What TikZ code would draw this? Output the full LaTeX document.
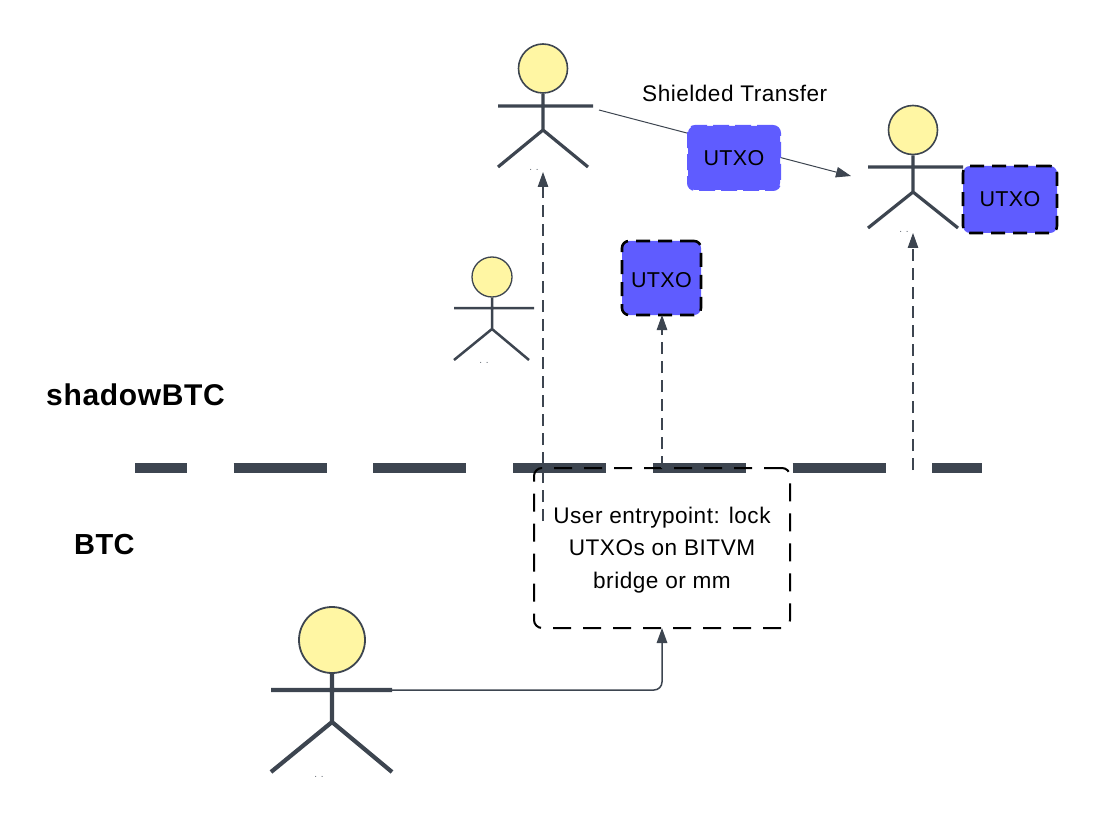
\documentclass[tikz,border=0pt]{standalone}
\usepackage{fontspec}
\setmainfont{Liberation Sans}
\newfontfamily\labelfont[LetterSpace=2.2]{Liberation Sans}
\newfontfamily\coinfont[LetterSpace=1.5]{Liberation Sans}
\newfontfamily\boldlabelfont[LetterSpace=1.5]{Liberation Sans}
\newfontfamily\boldwidefont[LetterSpace=2.2]{Liberation Sans}
\usetikzlibrary{arrows.meta}
\definecolor{ink}{HTML}{3D4550}
\definecolor{headfill}{HTML}{FFF6A3}
\definecolor{coin}{HTML}{5F5CFF}
\tikzset{
  txt/.style={font=\labelfont\fontsize{22.6}{22.6}\selectfont,text=black,inner sep=0pt},
  heading/.style={font=\boldlabelfont\bfseries\fontsize{29}{29}\selectfont,text=black,inner sep=0pt},
  headingwide/.style={heading,font=\boldwidefont\bfseries\fontsize{30}{30}\selectfont},
  coinbox/.style={draw=black,fill=coin,rounded corners=7pt,line width=2.6pt,dash pattern=on 14pt off 8pt,
    font=\coinfont\fontsize{21.5}{21.5}\selectfont,text=black,inner sep=0pt,outer sep=0pt,anchor=north west},
  softbox/.style={coinbox,draw=coin},
  notebox/.style={draw=black,rounded corners=8pt,line width=2pt,dash pattern=on 18pt off 12pt,
    font=\labelfont\fontsize{22.6}{32.5}\selectfont,text=black,inner sep=0pt,outer sep=0pt,align=center,anchor=north west},
  flow/.style={draw=ink,line width=1.5pt,-{Triangle[length=15pt,width=10.5pt]}},
  dashflow/.style={flow,line width=1.1pt,dash pattern=on 12pt off 7pt},
  limb/.style={draw=ink,line cap=butt},
  tinylabel/.style={font=\fontsize{10}{10}\selectfont,text=ink!80,inner sep=0pt},
  barline/.style={draw=ink,line width=10pt,dash pattern=on 93pt off 46.7pt,dash phase=41pt}
}
\begin{document}
\begin{tikzpicture}[x=1pt,y=-1pt]
\useasboundingbox (0,0) rectangle (1097,818);

% separator
\coordinate (barL) at (135,468);
\coordinate (barR) at (982,468);
\draw[barline] (barL) -- (barR);

% headings
\node[headingwide,anchor=base west] (shadow) at (46,405) {shadowBTC};
\node[heading,anchor=base west] (btc) at (74,554) {BTC};

% top actor
\node[circle,draw=ink,fill=headfill,line width=1.6pt,inner sep=0pt,minimum size=49pt] (headA) at (543,68.5) {};
\coordinate (hipA) at (543,130);
\coordinate (armAl) at (498,106); \coordinate (armAr) at (593,106);
\coordinate (legAl) at (498,167); \coordinate (legAr) at (588,167);
\draw[limb,line width=3.2pt] (headA) -- (hipA) (armAl) -- (armAr) (legAl) -- (hipA) -- (legAr);
\node[tinylabel] (dotsA) at (534,170) {. .};

% right actor
\node[circle,draw=ink,fill=headfill,line width=1.6pt,inner sep=0pt,minimum size=49pt] (headC) at (913,130) {};
\coordinate (hipC) at (913,192);
\coordinate (armCl) at (868,167); \coordinate (armCr) at (963,167);
\coordinate (legCl) at (868,228); \coordinate (legCr) at (958,228);
\draw[limb,line width=3.2pt] (headC) -- (hipC) (armCl) -- (armCr) (legCl) -- (hipC) -- (legCr);
\node[tinylabel] (dotsC) at (904,232) {. .};

% small actor
\node[circle,draw=ink,fill=headfill,line width=1.3pt,inner sep=0pt,minimum size=40pt] (headB) at (492,277) {};
\coordinate (hipB) at (492,329);
\coordinate (armBl) at (454,308); \coordinate (armBr) at (534,308);
\coordinate (legBl) at (454,360); \coordinate (legBr) at (529,360);
\draw[limb,line width=2.5pt] (headB) -- (hipB) (armBl) -- (armBr) (legBl) -- (hipB) -- (legBr);
\node[tinylabel] (dotsB) at (484,363) {. .};

% bottom actor
\node[circle,draw=ink,fill=headfill,line width=1.8pt,inner sep=0pt,minimum size=66pt] (headD) at (332,640) {};
\coordinate (hipD) at (332,722);
\coordinate (armDl) at (271,690); \coordinate (armDr) at (392,690);
\coordinate (legDl) at (271,772); \coordinate (legDr) at (392,772);
\draw[limb,line width=4.2pt] (headD) -- (hipD) (armDl) -- (armDr) (legDl) -- (hipD) -- (legDr);
\node[tinylabel] (dotsD) at (319,777) {. .};

% free ends of connectors
\coordinate (sendStart) at (599,110);
\coordinate (sendEnd) at (851,176);
\coordinate (upAstart) at (543,521);
\coordinate (upAend) at (543,172);
\coordinate (upCstart) at (913,470);
\coordinate (upCend) at (913,233);
\coordinate (lockStart) at (392,690);
\coordinate (midStart) at (662,468);

% connectors under boxes
\draw[flow,line width=1pt] (sendStart) -- (sendEnd);
\draw[dashflow] (upAstart) -- (upAend);
\draw[dashflow] (upCstart) -- (upCend);

% boxes
\node[softbox,dash pattern=on 16pt off 6pt,line width=2pt,minimum width=92pt,minimum height=64pt] (coinTop) at (688,126) {UTXO};
\node[coinbox,minimum width=94pt,minimum height=67pt] (coinRight) at (963,166) {UTXO};
\node[coinbox,minimum width=79pt,minimum height=74pt] (coinMid) at (622,241) {\rule{0pt}{19pt}UTXO};
\node[notebox,minimum width=256pt,minimum height=160pt] (entry) at (534,468) {\rule{0pt}{20pt}User entrypoint: lock\\UTXOs on BITVM\\bridge or mm};

% remaining connectors
\draw[dashflow] (midStart) -- (coinMid.south -| midStart);
\draw[flow,rounded corners=8pt] (lockStart) -| (entry.south);

\node[txt,anchor=base west] (title) at (642,101.5) {Shielded Transfer};
\end{tikzpicture}
\end{document}
